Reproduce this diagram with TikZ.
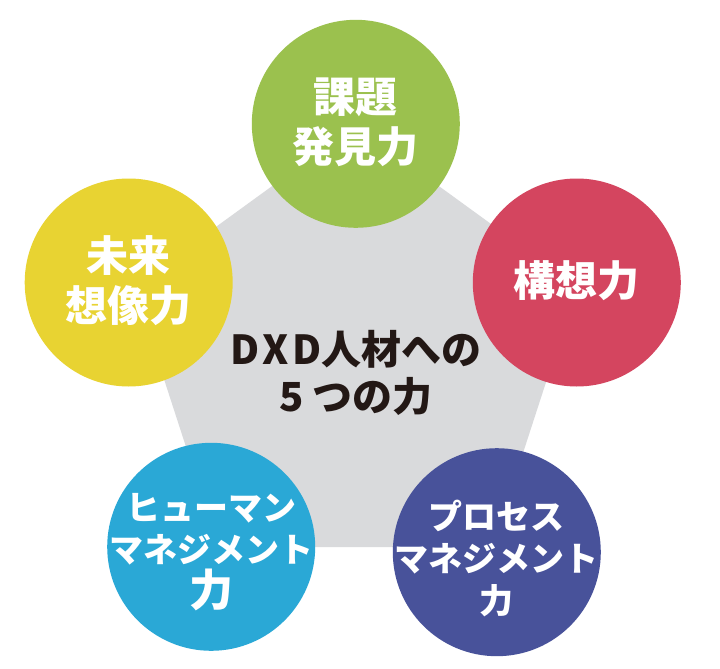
\documentclass[tikz,border=0pt]{standalone}
\usepackage{fontspec}
\usetikzlibrary{shapes.geometric}
\newfontfamily\jp{Noto Sans CJK JP}
\definecolor{pentgray}{HTML}{D9DADC}
\definecolor{cgreen}{HTML}{9BC14E}
\definecolor{cred}{HTML}{D4455F}
\definecolor{cyellow}{HTML}{E8D332}
\definecolor{cblue}{HTML}{2AA8D6}
\definecolor{cpurple}{HTML}{48529A}
\definecolor{ink}{HTML}{231815}
\tikzset{
  ball/.style={circle, minimum size=208pt, inner sep=0pt, outer sep=0pt},
  balltext/.style={text=white, align=center, inner sep=0pt},
  bigtxt/.style={font=\jp\bfseries\fontsize{42}{50}\selectfont},
  katatxt/.style={font=\jp\bfseries\fontsize{34}{42}\selectfont},
}
\begin{document}
\begin{tikzpicture}[x=1pt,y=-1pt]
\useasboundingbox[fill=white] (0,0) rectangle (720,669);
\node[regular polygon, regular polygon sides=5, minimum size=466pt, inner sep=0pt, outer sep=0pt, fill=pentgray] (pent) at (355.5,358.5) {};
\node[ball, fill=cgreen] (kadai) at (355.8,123.8) {};
\node[ball, fill=cred] (koso) at (576.8,282.5) {};
\node[ball, fill=cyellow] (mirai) at (128.7,282.5) {};
\node[ball, fill=cblue] (human) at (211.2,546.8) {};
\node[ball, fill=cpurple] (process) at (496.8,552.2) {};
\node[balltext, bigtxt] (kadai-t) at ([yshift=2pt]kadai.center) {課題\\発見力};
\node[balltext, bigtxt] (koso-t) at ([yshift=2pt]koso.center) {構想力};
\node[balltext, bigtxt] (mirai-t) at ([yshift=2pt]mirai.center) {未来\\想像力};
\node[balltext, katatxt] (human-t) at ([yshift=-5pt]human.center) {ヒューマン\\マネジメント\\[2pt]{\fontsize{44}{44}\selectfont 力}};
\node[balltext, katatxt] (process-t) at ([yshift=-6pt]process.center) {プロセス\\マネジメント\\力};
\node[text=ink, align=center, font=\jp\bfseries\fontsize{40}{47}\selectfont] (title) at (356,373) {D\kern3pt X\kern3pt D人材への\\5\kern9pt つの力};
\end{tikzpicture}
\end{document}
